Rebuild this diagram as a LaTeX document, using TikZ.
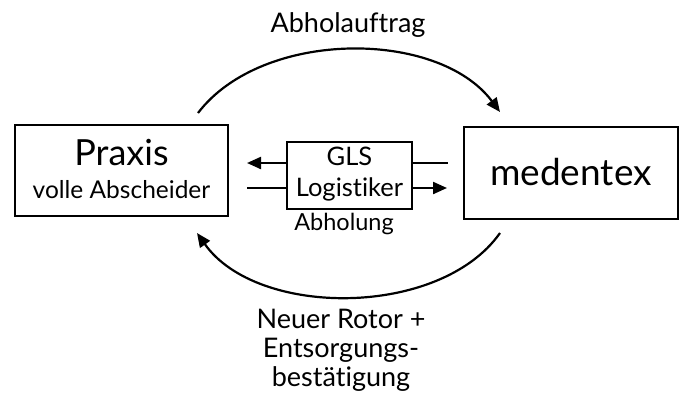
\documentclass[tikz,border=0pt]{standalone}
\usepackage{fontspec}
\setmainfont{Lato}[Ligatures=NoCommon]
\usetikzlibrary{arrows.meta}
\tikzset{
  box/.style={draw, line width=1.3pt, inner sep=0pt},
  lbl/.style={inner sep=0pt, align=center},
  flow/.style={line width=2.2pt},
  tip/.style={-{Triangle[length=14pt,width=12pt]}}
}
\begin{document}
\begin{tikzpicture}[x=1pt,y=-1pt]
\useasboundingbox (0,0) rectangle (684,394);
% boxes
\node[box, minimum width=213pt, minimum height=91pt] (praxis) at (121.5,170.5) {};
\node[lbl, font=\fontsize{36}{40}\selectfont] (praxist) at (121.5,153) {Praxis};
\node[lbl, font=\fontsize{24.5}{28}\selectfont] (praxiss) at (121.5,190) {volle Abscheider};
\node[box, minimum width=214pt, minimum height=92pt] (med) at (571,173) {};
\node[lbl, font=\fontsize{37}{40}\selectfont] (medt) at (571,172) {medentex};
\node[box, minimum width=125pt, minimum height=67pt] (gls) at (349.5,175.5) {};
\node[lbl, font=\fontsize{25.5}{31}\selectfont] (glst) at (349.5,174) {GLS\\Logistiker};
\node[lbl, font=\fontsize{23.5}{26}\selectfont] (abh) at (344,224) {Abholung};
% horizontal arrows
\coordinate (l1) at (247,163);
\coordinate (r1) at (448,163);
\coordinate (l2) at (247,188);
\coordinate (r2) at (447,188);
\draw[flow, tip] (gls.west |- l1) -- (l1);
\draw[flow] (gls.east |- r1) -- (r1);
\draw[flow] (l2) -- (gls.west |- l2);
\draw[flow, tip] (gls.east |- r2) -- (r2);
% arcs
\coordinate (a1) at (198,113);
\coordinate (a2) at (500,112);
\coordinate (b1) at (500,233);
\coordinate (b2) at (197,233);
\draw[flow, tip] (a1) .. controls (262,29) and (438,29) .. (a2);
\draw[flow, tip] (b1) .. controls (440,318) and (257,318) .. (b2);
\node[lbl, font=\fontsize{27}{30}\selectfont] (auftrag) at (348,25) {Abholauftrag};
\node[lbl, font=\fontsize{27}{29}\selectfont] (rotor) at (341,350) {Neuer Rotor +\\Entsorgungs-\\bestätigung};
\end{tikzpicture}
\end{document}
